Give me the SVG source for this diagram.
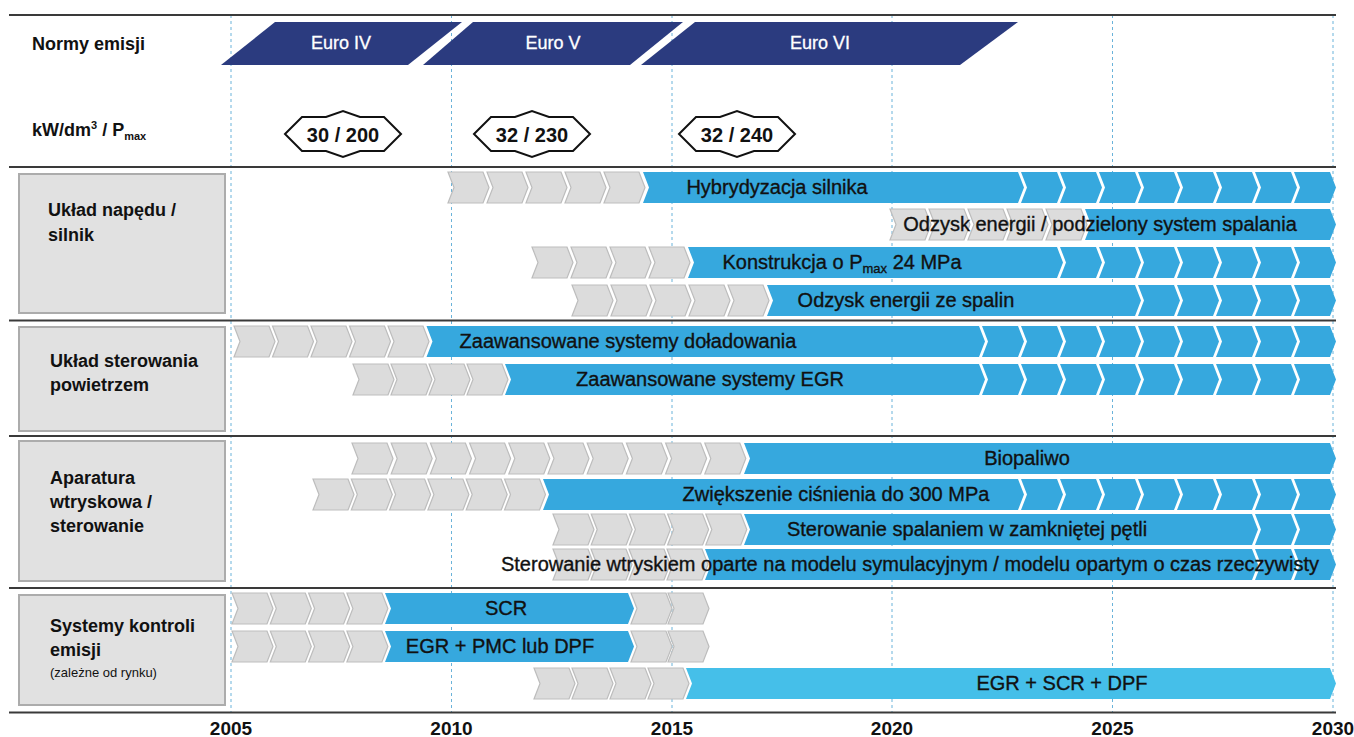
<svg xmlns="http://www.w3.org/2000/svg" width="1354" height="737" viewBox="0 0 1354 737">
<style>
.sep{stroke:#3a3a3a;stroke-width:2}
.grid{stroke:#6ab3da;stroke-width:1;stroke-dasharray:3 3}
.euro{fill:#2b3b7f}
.eurot{font-family:"Liberation Sans",Arial,sans-serif;font-size:18px;fill:#fff;stroke:#fff;stroke-width:0.3;text-anchor:middle}
.hdr{font-family:"Liberation Sans",Arial,sans-serif;font-size:18px;font-weight:bold;fill:#111}
.badge{fill:#fff;stroke:#111;stroke-width:2}
.badget{font-family:"Liberation Sans",Arial,sans-serif;font-size:20px;font-weight:bold;fill:#111;text-anchor:middle}
.lbl{fill:#e1e1e1;stroke:#acacac;stroke-width:2}
.lblt{font-family:"Liberation Sans",Arial,sans-serif;font-size:18px;font-weight:bold;fill:#111}
.small{font-size:13px;font-weight:normal}
.g{fill:#dcdcdc;stroke:#bdbdbd;stroke-width:1.2}
.b{fill:#36a8de}
.b2{fill:#45bfe9}
.bt{font-family:"Liberation Sans",Arial,sans-serif;font-size:20px;fill:#111;stroke:#111;stroke-width:0.35;text-anchor:middle}
.yr{font-family:"Liberation Sans",Arial,sans-serif;font-size:19px;font-weight:bold;fill:#111;text-anchor:middle}
</style>
<defs>
<path id="gc" d="M0,0H35L41,15.5L35,31H0L6,15.5Z"/>
<path id="bc" d="M0,0H36L42,15.5L36,31H0L6,15.5Z"/>
</defs>
<rect width="1354" height="737" fill="#fff"/>

<g id="grid">
<line class="grid" x1="231" y1="15" x2="231" y2="712"/>
<line class="grid" x1="451.5" y1="15" x2="451.5" y2="712"/>
<line class="grid" x1="672" y1="15" x2="672" y2="712"/>
<line class="grid" x1="892" y1="15" x2="892" y2="712"/>
<line class="grid" x1="1112.5" y1="15" x2="1112.5" y2="712"/>
<line class="grid" x1="1333" y1="15" x2="1333" y2="712"/>
</g>

<g id="separators">
<line class="sep" x1="9" y1="15" x2="1336" y2="15"/>
<line class="sep" x1="9" y1="167" x2="1336" y2="167"/>
<line class="sep" x1="9" y1="320.5" x2="1336" y2="320.5"/>
<line class="sep" x1="9" y1="436" x2="1336" y2="436"/>
<line class="sep" x1="9" y1="588" x2="1336" y2="588"/>
<line class="sep" x1="9" y1="712.5" x2="1336" y2="712.5"/>
</g>

<g id="header">
<text class="hdr" x="32" y="50">Normy emisji</text>
<text class="hdr" x="32" y="136">kW/dm<tspan dy="-7" font-size="11">3</tspan><tspan dy="7"> / P</tspan><tspan dy="4" font-size="11">max</tspan></text>
</g>

<g id="euro-iv"><polygon class="euro" points="221,65 275,22 462,22 408,65"/><text class="eurot" x="341" y="49">Euro IV</text></g>
<g id="euro-v"><polygon class="euro" points="423,65 473,22 683,22 630,65"/><text class="eurot" x="553" y="49">Euro V</text></g>
<g id="euro-vi"><polygon class="euro" points="641,65 695,22 1018,22 960,65"/><text class="eurot" x="820" y="49">Euro VI</text></g>

<g id="badge-1"><polygon class="badge" points="285,134 302,117 326,117 343,111 360,117 384,117 401,134 384,151 360,151 343,157 326,151 302,151"/><text class="badget" x="343" y="142">30 / 200</text></g>
<g id="badge-2"><polygon class="badge" points="474,134 491,117 515,117 532,111 549,117 573,117 590,134 573,151 549,151 532,157 515,151 491,151"/><text class="badget" x="532" y="142">32 / 230</text></g>
<g id="badge-3"><polygon class="badge" points="679,134 696,117 720,117 737,111 754,117 778,117 795,134 778,151 754,151 737,157 720,151 696,151"/><text class="badget" x="737" y="142">32 / 240</text></g>

<g id="label-naped"><rect class="lbl" x="19" y="174" width="206" height="139"/><text class="lblt" x="48" y="216">Układ napędu /</text><text class="lblt" x="48" y="241">silnik</text></g>
<g id="label-powietrze"><rect class="lbl" x="19" y="327" width="206" height="104"/><text class="lblt" x="50" y="367">Układ sterowania</text><text class="lblt" x="50" y="391">powietrzem</text></g>
<g id="label-wtrysk"><rect class="lbl" x="19" y="441" width="206" height="140"/><text class="lblt" x="50" y="484">Aparatura</text><text class="lblt" x="50" y="508">wtryskowa /</text><text class="lblt" x="50" y="532">sterowanie</text></g>
<g id="label-emisje"><rect class="lbl" x="19" y="595" width="206" height="110"/><text class="lblt" x="50" y="632">Systemy kontroli</text><text class="lblt" x="50" y="656">emisji</text><text class="lblt small" x="50" y="677">(zależne od rynku)</text></g>

<g id="row-hybrydyzacja">
<use href="#gc" class="g" x="448" y="172"/><use href="#gc" class="g" x="487" y="172"/><use href="#gc" class="g" x="526" y="172"/><use href="#gc" class="g" x="565" y="172"/><use href="#gc" class="g" x="604" y="172"/>
<polygon class="b" points="643,172 1018,172 1024,187.5 1018,203 643,203 649,187.5"/>
<use href="#bc" class="b" x="1021" y="172"/><use href="#bc" class="b" x="1060" y="172"/><use href="#bc" class="b" x="1099" y="172"/><use href="#bc" class="b" x="1138" y="172"/><use href="#bc" class="b" x="1177" y="172"/><use href="#bc" class="b" x="1216" y="172"/><use href="#bc" class="b" x="1255" y="172"/><use href="#bc" class="b" x="1294" y="172"/>
<text class="bt" x="777" y="194">Hybrydyzacja silnika</text>
</g>

<g id="row-odzysk-podzielony">
<use href="#gc" class="g" x="890" y="209"/><use href="#gc" class="g" x="929" y="209"/><use href="#gc" class="g" x="968" y="209"/><use href="#gc" class="g" x="1007" y="209"/><use href="#gc" class="g" x="1046" y="209"/>
<polygon class="b" points="1085,209 1330,209 1336,224.5 1330,240 1085,240 1091,224.5"/>
<text class="bt" x="1100" y="231">Odzysk energii / podzielony system spalania</text>
</g>

<g id="row-konstrukcja">
<use href="#gc" class="g" x="532" y="247"/><use href="#gc" class="g" x="571" y="247"/><use href="#gc" class="g" x="610" y="247"/><use href="#gc" class="g" x="649" y="247"/>
<polygon class="b" points="688,247 1057,247 1063,262.5 1057,278 688,278 694,262.5"/>
<use href="#bc" class="b" x="1060" y="247"/><use href="#bc" class="b" x="1099" y="247"/><use href="#bc" class="b" x="1138" y="247"/><use href="#bc" class="b" x="1177" y="247"/><use href="#bc" class="b" x="1216" y="247"/><use href="#bc" class="b" x="1255" y="247"/><use href="#bc" class="b" x="1294" y="247"/>
<text class="bt" x="842" y="269">Konstrukcja o P<tspan dy="4" font-size="13">max</tspan><tspan dy="-4"> 24 MPa</tspan></text>
</g>

<g id="row-odzysk-spalin">
<use href="#gc" class="g" x="572" y="285"/><use href="#gc" class="g" x="611" y="285"/><use href="#gc" class="g" x="650" y="285"/><use href="#gc" class="g" x="689" y="285"/><use href="#gc" class="g" x="728" y="285"/>
<polygon class="b" points="767,285 1135,285 1141,300.5 1135,316 767,316 773,300.5"/>
<use href="#bc" class="b" x="1138" y="285"/><use href="#bc" class="b" x="1177" y="285"/><use href="#bc" class="b" x="1216" y="285"/><use href="#bc" class="b" x="1255" y="285"/><use href="#bc" class="b" x="1294" y="285"/>
<text class="bt" x="906" y="307">Odzysk energii ze spalin</text>
</g>

<g id="row-doladowanie">
<use href="#gc" class="g" x="234" y="326"/><use href="#gc" class="g" x="272.5" y="326"/><use href="#gc" class="g" x="311" y="326"/><use href="#gc" class="g" x="349.5" y="326"/><use href="#gc" class="g" x="388" y="326"/>
<polygon class="b" points="426.5,326 979,326 985,341.5 979,357 426.5,357 432.5,341.5"/>
<use href="#bc" class="b" x="982" y="326"/><use href="#bc" class="b" x="1021" y="326"/><use href="#bc" class="b" x="1060" y="326"/><use href="#bc" class="b" x="1099" y="326"/><use href="#bc" class="b" x="1138" y="326"/><use href="#bc" class="b" x="1177" y="326"/><use href="#bc" class="b" x="1216" y="326"/><use href="#bc" class="b" x="1255" y="326"/><use href="#bc" class="b" x="1294" y="326"/>
<text class="bt" x="628" y="348">Zaawansowane systemy doładowania</text>
</g>

<g id="row-egr">
<use href="#gc" class="g" x="353" y="364"/><use href="#gc" class="g" x="391" y="364"/><use href="#gc" class="g" x="429" y="364"/><use href="#gc" class="g" x="467" y="364"/>
<polygon class="b" points="505,364 979,364 985,379.5 979,395 505,395 511,379.5"/>
<use href="#bc" class="b" x="982" y="364"/><use href="#bc" class="b" x="1021" y="364"/><use href="#bc" class="b" x="1060" y="364"/><use href="#bc" class="b" x="1099" y="364"/><use href="#bc" class="b" x="1138" y="364"/><use href="#bc" class="b" x="1177" y="364"/><use href="#bc" class="b" x="1216" y="364"/><use href="#bc" class="b" x="1255" y="364"/><use href="#bc" class="b" x="1294" y="364"/>
<text class="bt" x="710" y="386">Zaawansowane systemy EGR</text>
</g>

<g id="row-biopaliwo">
<use href="#gc" class="g" x="352" y="443"/><use href="#gc" class="g" x="391.2" y="443"/><use href="#gc" class="g" x="430.4" y="443"/><use href="#gc" class="g" x="469.6" y="443"/><use href="#gc" class="g" x="508.8" y="443"/><use href="#gc" class="g" x="548" y="443"/><use href="#gc" class="g" x="587.2" y="443"/><use href="#gc" class="g" x="626.4" y="443"/><use href="#gc" class="g" x="665.6" y="443"/><use href="#gc" class="g" x="704.8" y="443"/>
<polygon class="b" points="744,443 1330,443 1336,458.5 1330,474 744,474 750,458.5"/>
<text class="bt" x="1027" y="465">Biopaliwo</text>
</g>

<g id="row-cisnienie">
<use href="#gc" class="g" x="313" y="479"/><use href="#gc" class="g" x="351.3" y="479"/><use href="#gc" class="g" x="389.6" y="479"/><use href="#gc" class="g" x="427.9" y="479"/><use href="#gc" class="g" x="466.2" y="479"/><use href="#gc" class="g" x="504.5" y="479"/>
<polygon class="b" points="543,479 1018,479 1024,494.5 1018,510 543,510 549,494.5"/>
<use href="#bc" class="b" x="1021" y="479"/><use href="#bc" class="b" x="1060" y="479"/><use href="#bc" class="b" x="1099" y="479"/><use href="#bc" class="b" x="1138" y="479"/><use href="#bc" class="b" x="1177" y="479"/><use href="#bc" class="b" x="1216" y="479"/><use href="#bc" class="b" x="1255" y="479"/><use href="#bc" class="b" x="1294" y="479"/>
<text class="bt" x="836" y="501">Zwiększenie ciśnienia do 300 MPa</text>
</g>

<g id="row-petla">
<use href="#gc" class="g" x="553" y="514"/><use href="#gc" class="g" x="591.2" y="514"/><use href="#gc" class="g" x="629.4" y="514"/><use href="#gc" class="g" x="667.6" y="514"/><use href="#gc" class="g" x="705.8" y="514"/>
<polygon class="b" points="744,514 1252,514 1258,529.5 1252,545 744,545 750,529.5"/>
<use href="#bc" class="b" x="1255" y="514"/><use href="#bc" class="b" x="1294" y="514"/>
<text class="bt" x="967" y="536">Sterowanie spalaniem w zamkniętej pętli</text>
</g>

<g id="row-model">
<use href="#gc" class="g" x="553" y="549"/><use href="#gc" class="g" x="591" y="549"/><use href="#gc" class="g" x="629" y="549"/><use href="#gc" class="g" x="667" y="549"/>
<polygon class="b" points="705,549 1252,549 1258,564.5 1252,580 705,580 711,564.5"/>
<use href="#bc" class="b" x="1255" y="549"/><use href="#bc" class="b" x="1294" y="549"/>
<text class="bt" x="910" y="571">Sterowanie wtryskiem oparte na modelu symulacyjnym / modelu opartym o czas rzeczywisty</text>
</g>

<g id="row-scr">
<use href="#gc" class="g" x="232" y="593"/><use href="#gc" class="g" x="270.3" y="593"/><use href="#gc" class="g" x="308.6" y="593"/><use href="#gc" class="g" x="346.9" y="593"/>
<polygon class="b" points="385,593 628,593 634,608.5 628,624 385,624 391,608.5"/>
<use href="#gc" class="g" x="631" y="593"/><use href="#gc" class="g" x="668" y="593"/>
<text class="bt" x="506" y="615">SCR</text>
</g>

<g id="row-egr-pmc">
<use href="#gc" class="g" x="232" y="631"/><use href="#gc" class="g" x="270.3" y="631"/><use href="#gc" class="g" x="308.6" y="631"/><use href="#gc" class="g" x="346.9" y="631"/>
<polygon class="b" points="385,631 628,631 634,646.5 628,662 385,662 391,646.5"/>
<use href="#gc" class="g" x="631" y="631"/><use href="#gc" class="g" x="668" y="631"/>
<text class="bt" x="500" y="653">EGR + PMC lub DPF</text>
</g>

<g id="row-egr-scr-dpf">
<use href="#gc" class="g" x="534" y="668"/><use href="#gc" class="g" x="572" y="668"/><use href="#gc" class="g" x="610" y="668"/><use href="#gc" class="g" x="648" y="668"/>
<polygon class="b2" points="686,668 1330,668 1336,683.5 1330,699 686,699 692,683.5"/>
<text class="bt" x="1062" y="690">EGR + SCR + DPF</text>
</g>

<g id="years">
<text class="yr" x="231" y="735">2005</text>
<text class="yr" x="451.5" y="735">2010</text>
<text class="yr" x="672" y="735">2015</text>
<text class="yr" x="892" y="735">2020</text>
<text class="yr" x="1112.5" y="735">2025</text>
<text class="yr" x="1333" y="735">2030</text>
</g>
</svg>
